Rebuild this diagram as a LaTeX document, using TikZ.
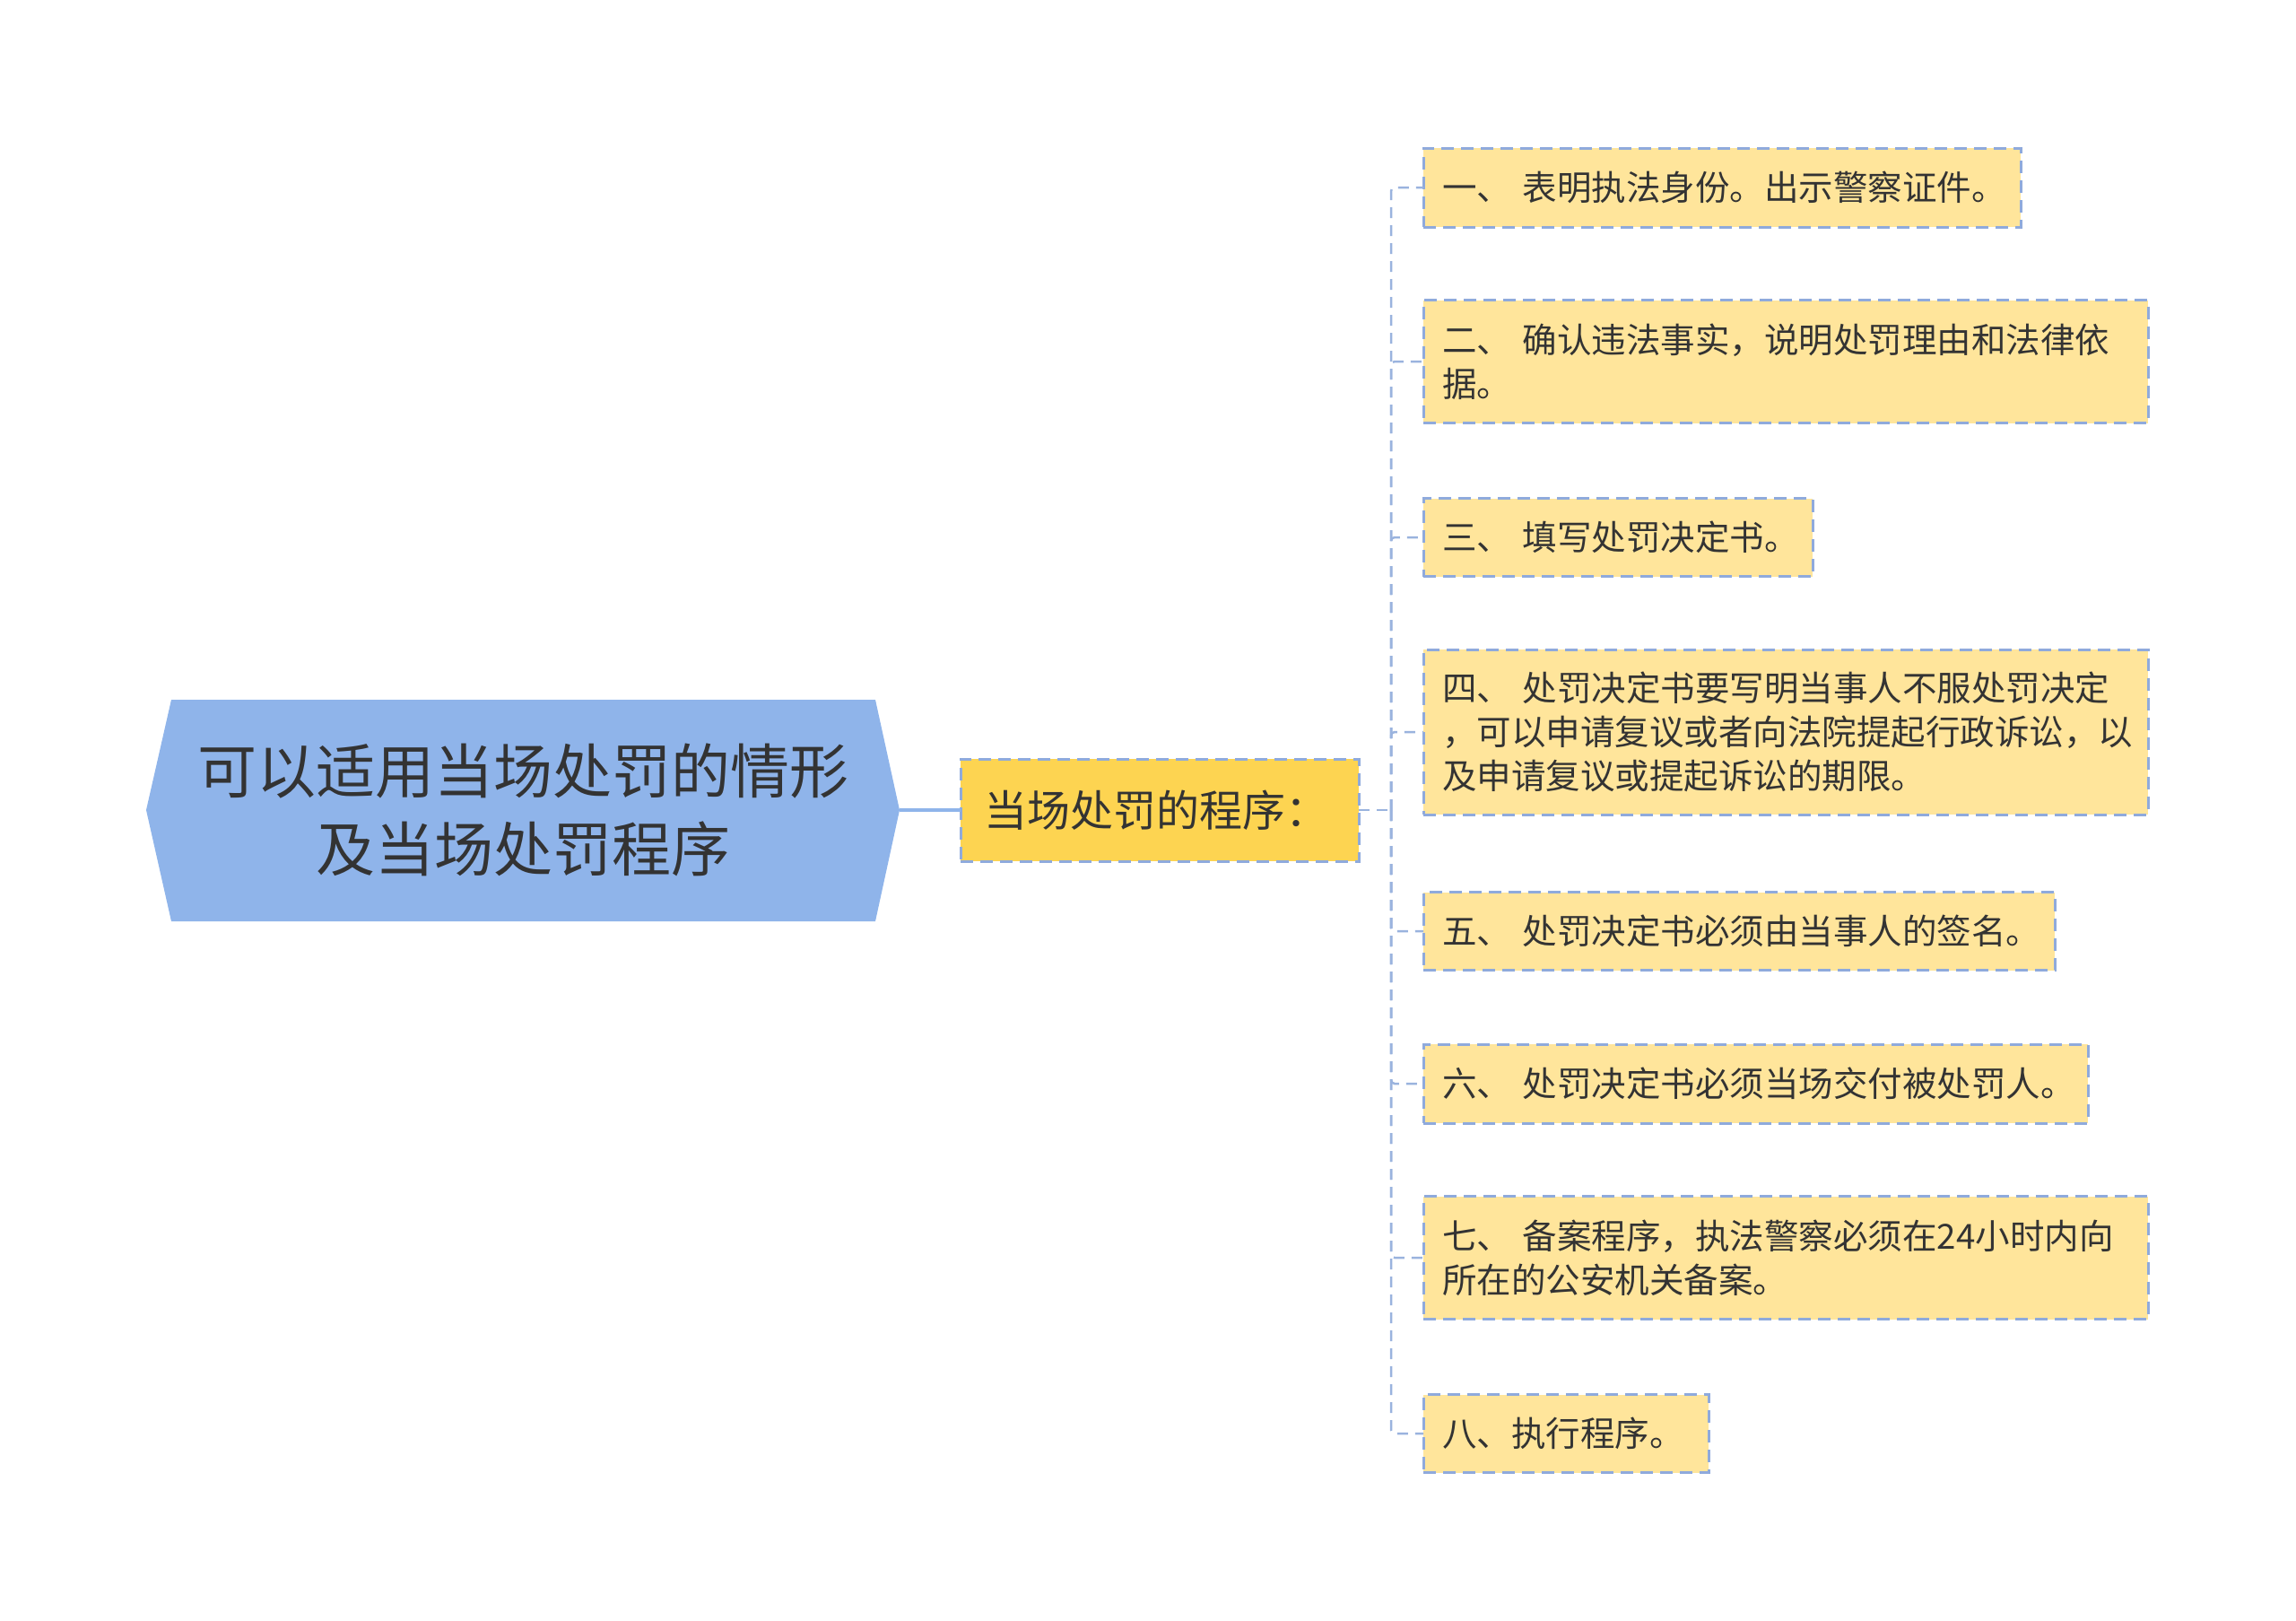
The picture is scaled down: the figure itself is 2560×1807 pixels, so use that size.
\documentclass[tikz,border=0pt]{standalone}
\usepackage{fontspec}
\setmainfont{Noto Sans CJK SC}
\definecolor{rootc}{HTML}{8FB4EA}
\definecolor{midc}{HTML}{FDD451}
\definecolor{leafc}{HTML}{FFE59B}
\definecolor{bordc}{HTML}{8FAADC}
\definecolor{linec}{HTML}{9AB3DE}
\definecolor{txtc}{HTML}{333333}
\begin{document}
\begin{tikzpicture}[x=1pt,y=-1pt,
  leaf/.style={draw=bordc, line width=3pt, dash pattern=on 14pt off 8pt, fill=leafc,
    anchor=west, outer sep=0pt, inner xsep=21pt, inner ysep=0pt, align=left,
    text=txtc, font=\fontsize{38.5}{49}\selectfont},
  midbox/.style={draw=bordc, line width=3pt, dash pattern=on 14pt off 8pt, fill=midc,
    anchor=west, outer sep=0pt, inner xsep=26pt, inner ysep=0pt, align=left,
    text=txtc, font=\fontsize{48}{56}\selectfont},
  trunk/.style={draw=linec, line width=2.5pt, dash pattern=on 12pt off 8pt},
  rootline/.style={draw=rootc, line width=4pt}]
\useasboundingbox (0,0) rectangle (2560,1807);
% root
\fill[rootc] (163,903) -- (191,780) -- (976,780) -- (1003,903) -- (976,1027) -- (191,1027) -- cycle;
\node[minimum width=840pt, inner sep=0pt, outer sep=0pt, align=center, text=txtc,
  font=\fontsize{66}{87}\selectfont] (root) at (583,903) {可以适用当场处罚的情形\\及当场处罚程序};
% middle
\node[midbox, minimum width=444pt, minimum height=114pt, text width=392pt] (mid) at (1071,903) {当场处罚的程序：};
% leaves
\node[leaf, minimum height=88pt, text width=624pt] (L1) at (1587,209) {一、~表明执法身份。出示警察证件。};
\node[leaf, minimum height=137pt, text width=766pt] (L2) at (1587,403) {二、~确认违法事实，说明处罚理由和法律依\\据。};
\node[leaf, minimum height=87pt, text width=392pt] (L3) at (1587,599) {三、~填写处罚决定书。};
\node[leaf, minimum height=184pt, text width=766pt] (L4) at (1587,816) {四、~处罚决定书要写明当事人不服处罚决定\\，可以申请复议或者向法院提起行政诉讼，以\\及申请复议或提起诉讼的期限。};
\node[leaf, minimum height=87pt, text width=662pt] (L5) at (1587,1038) {五、~处罚决定书必须由当事人的签名。};
\node[leaf, minimum height=88pt, text width=699pt] (L6) at (1587,1208) {六、~处罚决定书必须当场交付被处罚人。};
\node[leaf, minimum height=137pt, text width=766pt] (L7) at (1587,1402) {七、~备案程序，执法警察必须在24小时内向\\所在的公安机关备案。};
\node[leaf, minimum height=87pt, text width=276pt] (L8) at (1587,1598) {八、执行程序。};
% connectors
\draw[rootline] (root.east) -- (mid.west);
\coordinate (j) at (1551,903);
\draw[trunk] (mid.east) -- (j);
\foreach \n in {L1,L2,L3,L4,L5,L6,L7,L8}
  \draw[trunk, rounded corners=4pt] (j) |- (\n.west);
\end{tikzpicture}
\end{document}
